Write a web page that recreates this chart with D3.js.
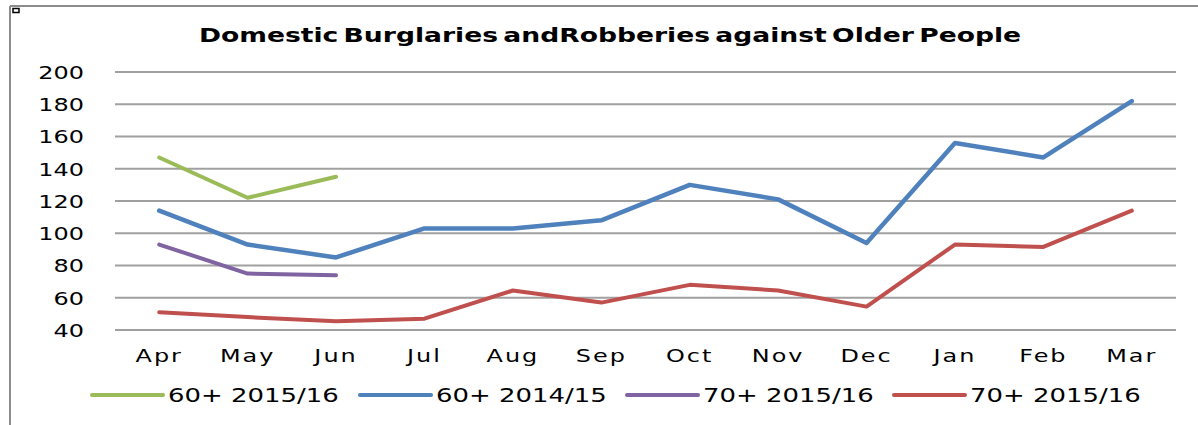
<!DOCTYPE html>
<html>
<head>
<meta charset="utf-8">
<script src="https://cdn.jsdelivr.net/npm/d3@7"></script>
<style>
  body { margin: 0; background: #fff; }
  text { font-family: "DejaVu Sans", sans-serif; fill: #000; }
</style>
</head>
<body>
<script>
// chart data
const months = ["Apr", "May", "Jun", "Jul", "Aug", "Sep", "Oct", "Nov", "Dec", "Jan", "Feb", "Mar"];
const yTicks = [40, 60, 80, 100, 120, 140, 160, 180, 200];
const over60_1516 = [147, 122, 135];
const over60_1415 = [114, 93, 85, 103, 103, 108, 130, 121, 94, 156, 147, 182];
const over70_1516a = [93, 75, 74];
const over70_1516b = [51, 48, 45.5, 47, 64.5, 57, 68, 64.5, 54.5, 93, 91.5, 114];
const seriesNames = ["60+ 2015/16", "60+ 2014/15", "70+ 2015/16", "70+ 2015/16"];
const seriesColors = ["#9bbb59", "#4f81bd", "#8064a2", "#c0504d"];

const series = [
    {name: seriesNames[0], color: seriesColors[0], values: over60_1516, w: 4},
    {name: seriesNames[1], color: seriesColors[1], values: over60_1415, w: 4.5},
    {name: seriesNames[2], color: seriesColors[2], values: over70_1516a, w: 4},
    {name: seriesNames[3], color: seriesColors[3], values: over70_1516b, w: 4}
];

const W = 1198, H = 425;
const sx = 1.33; // the original is stretched sideways
const svg = d3.select("body").append("svg").attr("width", W).attr("height", H);

// frame
svg.append("line").attr("x1", 10).attr("x2", W).attr("y1", 6).attr("y2", 6)
    .attr("stroke", "#8c8c8c").attr("stroke-width", 2);
svg.append("line").attr("x1", 10).attr("x2", 10).attr("y1", 6).attr("y2", H)
    .attr("stroke", "#8c8c8c").attr("stroke-width", 2);
svg.append("rect").attr("x", 13).attr("y", 8.5).attr("width", 6).attr("height", 4)
    .attr("fill", "#fff").attr("stroke", "#000").attr("stroke-width", 1.5);

// scales
const x = d3.scaleBand().domain(months).range([115, 1176]);
const y = d3.scaleLinear().domain([40, 200]).range([330, 72]);
const cx = d => x(d) + x.bandwidth() / 2;

// title
svg.append("text")
    .attr("transform", "translate(610,42) scale(" + sx + ",1)")
    .attr("text-anchor", "middle")
    .style("font-weight", "bold").style("font-size", "20px")
    .style("word-spacing", "-3px")
    .text("Domestic Burglaries andRobberies against Older People");

// grid
svg.append("g").selectAll("line")
    .data(yTicks)
    .join("line")
    .attr("x1", 115).attr("x2", 1176)
    .attr("y1", d => y(d)).attr("y2", d => y(d))
    .attr("stroke", "#a0a0a0").attr("stroke-width", 2);

// y axis labels
const yAxis = svg.append("g")
    .call(d3.axisLeft(y).tickValues(yTicks).tickSize(0).tickPadding(0));
yAxis.select(".domain").remove();
yAxis.selectAll("text")
    .attr("x", null).attr("dy", null)
    .attr("text-anchor", "end")
    .attr("dominant-baseline", "central")
    .attr("transform", "translate(84,0) scale(" + sx + ",1)")
    .style("font-size", "18px").style("font-family", "DejaVu Sans");

// x axis labels
const xAxis = svg.append("g").attr("transform", "translate(0,356)")
    .call(d3.axisBottom(x).tickSize(0).tickPadding(0));
xAxis.select(".domain").remove();
xAxis.selectAll(".tick text")
    .attr("y", null).attr("dy", null)
    .attr("dominant-baseline", "central")
    .attr("transform", "scale(" + sx + ",1)")
    .style("font-size", "18px").style("font-family", "DejaVu Sans")
    .style("letter-spacing", "1.5px");

// lines
const line = d3.line()
    .x((d, i) => cx(months[i]))
    .y(d => y(d));

svg.append("g").selectAll("path")
    .data(series)
    .join("path")
    .attr("d", d => line(d.values))
    .attr("fill", "none")
    .attr("stroke", d => d.color)
    .attr("stroke-width", d => d.w)
    .attr("stroke-linejoin", "round")
    .attr("stroke-linecap", "round");

// legend
const legendX = [92, 360, 627, 894];
const lg = svg.append("g").selectAll("g")
    .data(series)
    .join("g")
    .attr("transform", (d, i) => "translate(" + legendX[i] + ",395)");
lg.append("line")
    .attr("x1", 0).attr("x2", 71).attr("y1", 0).attr("y2", 0)
    .attr("stroke", d => d.color).attr("stroke-width", 4).attr("stroke-linecap", "round");
lg.append("text")
    .attr("transform", "translate(76,0) scale(" + sx + ",1)")
    .attr("dominant-baseline", "central")
    .style("font-size", "19.5px")
    .text(d => d.name);
</script>
</body>
</html>
